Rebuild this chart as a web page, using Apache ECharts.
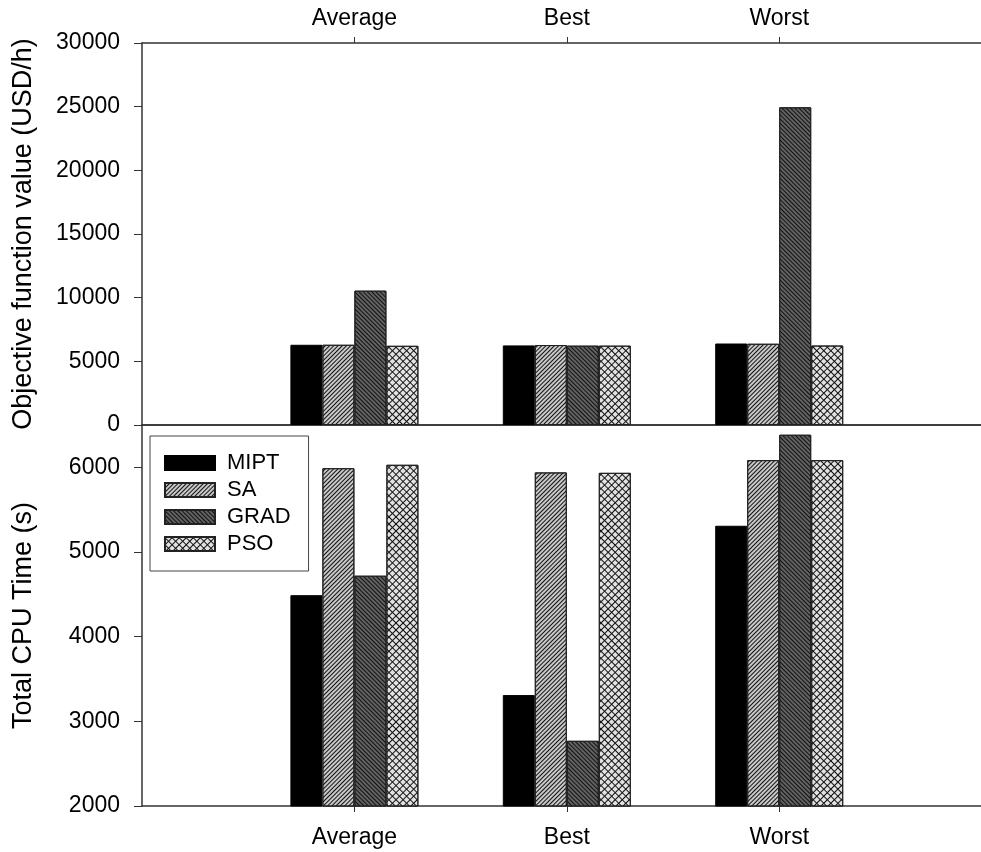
<!DOCTYPE html>
<html>
<head>
<meta charset="utf-8">
<script src="https://cdn.jsdelivr.net/npm/echarts@6/dist/echarts.min.js"></script>
<style>
  html, body { margin: 0; padding: 0; background: #fff; }
  #chart { width: 981px; height: 852px; }
</style>
</head>
<body>
<div id="chart"></div>
<script>
// Cases and methods
const categories = ['Average', 'Best', 'Worst'];
const methods = ['MIPT', 'SA', 'GRAD', 'PSO'];

// Objective function value (USD/h), per case
const objMIPT = [6300, 6250, 6400];
const objSA   = [6300, 6280, 6380];
const objGRAD = [10550, 6230, 24950];
const objPSO  = [6220, 6230, 6240];

// Total CPU time (s), per case
const cpuMIPT = [4490, 3310, 5310];
const cpuSA   = [5990, 5940, 6085];
const cpuGRAD = [4720, 2770, 6385];
const cpuPSO  = [6030, 5935, 6085];

// Axis ticks
const objTicks = [0, 5000, 10000, 15000, 20000, 25000, 30000];
const cpuTicks = [2000, 3000, 4000, 5000, 6000];
const casePositions = categories.map((c, i) => i + 1);

const FONT = 'Liberation Sans, Arial, Helvetica, sans-serif';
const AXIS = '#333';

// Fill colours and hatch patterns per method
const styles = {
  MIPT: { color: '#000000', borderColor: '#000', borderWidth: 1 },
  SA: {
    color: '#c8c8c8', borderColor: '#222', borderWidth: 1,
    decal: { symbol: 'rect', dashArrayX: [1, 0], dashArrayY: [1, 2], rotation: -Math.PI / 4, color: '#111' }
  },
  GRAD: {
    color: '#626262', borderColor: '#222', borderWidth: 1,
    decal: { symbol: 'rect', dashArrayX: [1, 0], dashArrayY: [1, 2], rotation: Math.PI / 4, color: '#111' }
  },
  PSO: {
    color: '#e2e2e2', borderColor: '#222', borderWidth: 1,
    decal: { symbol: 'rect', dashArrayX: [[1, 0], [1, 4]], dashArrayY: [1, 0, 4, 0], rotation: Math.PI / 4, color: '#111' }
  }
};

const objData = { MIPT: objMIPT, SA: objSA, GRAD: objGRAD, PSO: objPSO };
const cpuData = { MIPT: cpuMIPT, SA: cpuSA, GRAD: cpuGRAD, PSO: cpuPSO };

function caseAxis(gridIndex, position, withLabels, margin) {
  return {
    type: 'value', gridIndex, position, min: 0, max: 3.95,
    axisLine: { show: true, onZero: false, lineStyle: { color: AXIS, width: 1.5 } },
    axisTick: withLabels ? { show: true, customValues: casePositions, length: 6, lineStyle: { color: AXIS } } : { show: false },
    axisLabel: withLabels ? {
      show: true, customValues: casePositions, margin,
      formatter: v => categories[Math.round(v) - 1] || '',
      fontSize: 23, fontFamily: FONT, color: '#000'
    } : { show: false },
    splitLine: { show: false }
  };
}

function valueAxis(gridIndex, min, max, interval, ticks, name) {
  return {
    type: 'value', gridIndex, min, max, interval,
    name, nameLocation: 'middle', nameGap: 105,
    nameTextStyle: { fontSize: 27, fontFamily: FONT, color: '#000' },
    axisLine: { show: true, onZero: false, lineStyle: { color: AXIS, width: 1.5 } },
    axisTick: { show: true, customValues: ticks, length: 8, lineStyle: { color: AXIS } },
    axisLabel: {
      customValues: ticks, margin: 22, fontSize: 23, fontFamily: FONT, color: '#000',
      formatter: v => String(v)
    },
    splitLine: { show: false }
  };
}

const series = [];
methods.forEach(m => {
  series.push({
    name: m, type: 'bar', xAxisIndex: 0, yAxisIndex: 0,
    barWidth: 32, barGap: '0%',
    itemStyle: styles[m],
    data: objData[m].map((v, i) => [casePositions[i], v])
  });
});
methods.forEach(m => {
  series.push({
    name: m, type: 'bar', xAxisIndex: 2, yAxisIndex: 1,
    barWidth: 32, barGap: '0%',
    itemStyle: styles[m],
    data: cpuData[m].map((v, i) => [casePositions[i], v])
  });
});

const chart = echarts.init(document.getElementById('chart'), null, { renderer: 'canvas' });
chart.setOption({
  animation: false,
  backgroundColor: '#fff',
  textStyle: { fontFamily: FONT },
  grid: [
    { left: 142, right: 0, top: 43, height: 382 },
    { left: 142, right: 0, top: 425, bottom: 46 }
  ],
  xAxis: [
    caseAxis(0, 'top', true, 13),
    caseAxis(0, 'bottom', false),
    caseAxis(1, 'bottom', true, 20),
    caseAxis(1, 'top', false)
  ],
  yAxis: [
    valueAxis(0, 0, 30000, 5000, objTicks, 'Objective function value (USD/h)'),
    valueAxis(1, 2000, 6500, 1000, cpuTicks, 'Total CPU Time (s)')
  ],
  legend: {
    data: methods,
    orient: 'vertical',
    left: 150, top: 436,
    icon: 'rect',
    itemWidth: 50, itemHeight: 14, itemGap: 5,
    padding: [16, 18, 16, 14],
    borderColor: '#444', borderWidth: 1,
    backgroundColor: '#fff',
    textStyle: { fontSize: 22, fontFamily: FONT, color: '#000', padding: [0, 0, 0, 7] }
  },
  series
});
</script>
</body>
</html>
